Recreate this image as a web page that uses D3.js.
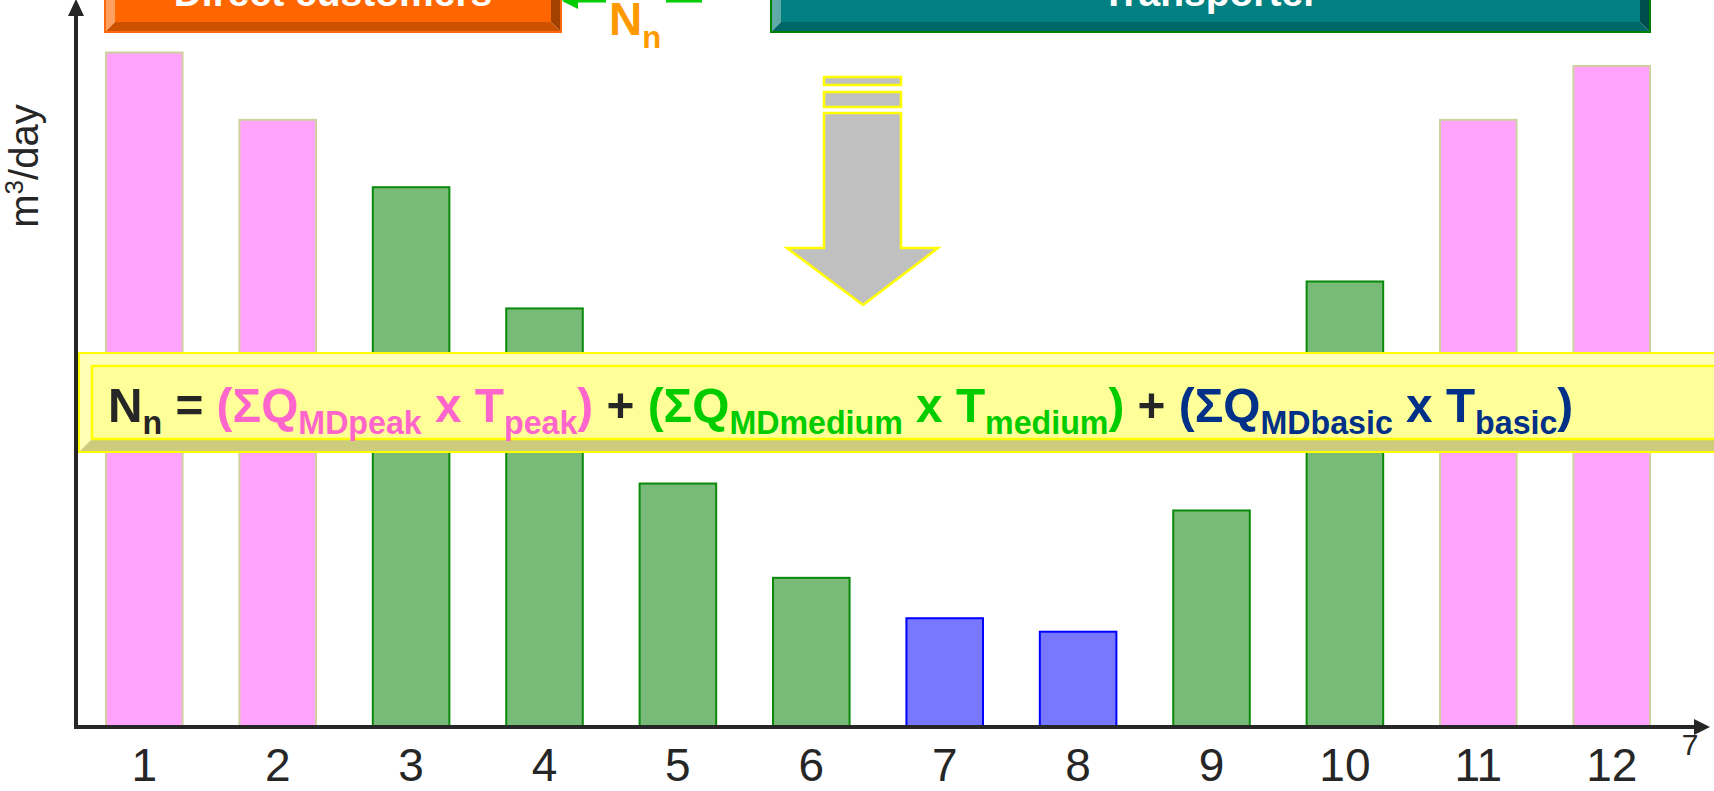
<!DOCTYPE html>
<html>
<head>
<meta charset="utf-8">
<script src="https://cdn.jsdelivr.net/npm/d3@7"></script>
<style>
  html, body { margin: 0; padding: 0; background: #ffffff; overflow: hidden; }
  svg { display: block; }
  text { font-family: "Liberation Sans", Arial, sans-serif; }
</style>
</head>
<body>
<svg id="chart" width="1714" height="791"></svg>
<script>
// ---------------- data ----------------
const categories = ["1", "2", "3", "4", "5", "6", "7", "8", "9", "10", "11", "12"];
const values = [100, 90, 80, 62, 36, 22, 16, 14, 32, 66, 90, 98];
const tiers = ["peak", "peak", "medium", "medium", "medium", "medium", "basic", "basic", "medium", "medium", "peak", "peak"];
const tickLabels = ["1", "2", "3", "4", "5", "6", "7", "8", "9", "10", "11", "12"];
const yAxisLabel = "m";
const yAxisLabelSup = "3";
const yAxisLabelRest = "/day";
const boxLabels = ["Direct customers", "Transporter"];
const formulaParts = [
  { t: "N", tier: "none", sub: false },
  { t: "n", tier: "none", sub: true },
  { t: " = ", tier: "none", sub: false },
  { t: "(ΣQ", tier: "peak", sub: false },
  { t: "MDpeak", tier: "peak", sub: true },
  { t: " x T", tier: "peak", sub: false },
  { t: "peak", tier: "peak", sub: true },
  { t: ")", tier: "peak", sub: false },
  { t: " + ", tier: "none", sub: false },
  { t: "(ΣQ", tier: "medium", sub: false },
  { t: "MDmedium", tier: "medium", sub: true },
  { t: " x T", tier: "medium", sub: false },
  { t: "medium", tier: "medium", sub: true },
  { t: ")", tier: "medium", sub: false },
  { t: " + ", tier: "none", sub: false },
  { t: "(ΣQ", tier: "basic", sub: false },
  { t: "MDbasic", tier: "basic", sub: true },
  { t: " x T", tier: "basic", sub: false },
  { t: "basic", tier: "basic", sub: true },
  { t: ")", tier: "basic", sub: false }
];

// ---------------- styles ----------------
const barFill = { peak: "#FFA3FF", medium: "#78BA78", basic: "#7878FF" };
const barStroke = { peak: "#CFCF9F", medium: "#0A8A0A", basic: "#0000FF" };
const formulaColor = { none: "#262626", peak: "#FF66CC", medium: "#00CC00", basic: "#003087" };
const axisColor = "#262626";

const svg = d3.select("#chart");

// ---------------- scales ----------------
const x = d3.scaleBand().domain(categories).range([106, 1650]).paddingInner(0.426).paddingOuter(0);
const y = d3.scaleLinear().domain([0, 100]).range([726, 52.5]);

// ---------------- bars ----------------
svg.append("g").selectAll("rect")
  .data(categories.map((c, i) => ({ c, v: values[i], tier: tiers[i] })))
  .join("rect")
  .attr("x", d => x(d.c))
  .attr("y", d => y(d.v))
  .attr("width", x.bandwidth())
  .attr("height", d => y(0) - y(d.v))
  .attr("fill", d => barFill[d.tier])
  .attr("stroke", d => barStroke[d.tier])
  .attr("stroke-width", 2);

// ---------------- axes ----------------
const xAxis = svg.append("g")
  .attr("transform", `translate(0, 727)`)
  .call(d3.axisBottom(x).tickSize(0).tickPadding(0).tickFormat((d, i) => tickLabels[i]));
xAxis.select(".domain").remove();
xAxis.selectAll("text")
  .attr("y", 54)
  .attr("dy", 0)
  .attr("fill", axisColor)
  .style("font-size", "46px")
  .style("font-family", "'Liberation Sans', Arial, sans-serif");

// axis lines with arrow heads
svg.append("line").attr("x1", 74).attr("y1", 727).attr("x2", 1696).attr("y2", 727)
  .attr("stroke", axisColor).attr("stroke-width", 4);
svg.append("path").attr("d", "M1694,719 L1710,727 L1694,735 Z").attr("fill", axisColor);
svg.append("line").attr("x1", 76).attr("y1", 729).attr("x2", 76).attr("y2", 14)
  .attr("stroke", axisColor).attr("stroke-width", 4);
svg.append("path").attr("d", "M68,16 L76,-1 L84,16 Z").attr("fill", axisColor);

svg.append("text").attr("x", 1690).attr("y", 755).attr("text-anchor", "middle")
  .attr("fill", axisColor).style("font-size", "30px").text("7");

// y label
const yl = svg.append("text")
  .attr("transform", "translate(38,166) rotate(-90)")
  .attr("text-anchor", "middle")
  .attr("fill", axisColor)
  .style("font-size", "40px");
yl.append("tspan").text(yAxisLabel);
yl.append("tspan").attr("dy", -15).style("font-size", "26px").text(yAxisLabelSup);
yl.append("tspan").attr("dy", 15).text(yAxisLabelRest);

// ---------------- bevel boxes ----------------
function bevelBox(g, x0, y0, x1, y1, b, c) {
  const grp = g.append("g");
  grp.append("polygon").attr("points", `${x0},${y0} ${x1},${y0} ${x1 - b},${y0 + b} ${x0 + b},${y0 + b}`).attr("fill", c.top);
  grp.append("polygon").attr("points", `${x0},${y0} ${x0 + b},${y0 + b} ${x0 + b},${y1 - b} ${x0},${y1}`).attr("fill", c.left);
  grp.append("polygon").attr("points", `${x1},${y0} ${x1},${y1} ${x1 - b},${y1 - b} ${x1 - b},${y0 + b}`).attr("fill", c.right);
  grp.append("polygon").attr("points", `${x0},${y1} ${x0 + b},${y1 - b} ${x1 - b},${y1 - b} ${x1},${y1}`).attr("fill", c.bottom);
  grp.append("rect").attr("x", x0 + b).attr("y", y0 + b).attr("width", x1 - x0 - 2 * b).attr("height", y1 - y0 - 2 * b).attr("fill", c.face);
  if (c.line) {
    grp.append("rect").attr("x", x0 + b).attr("y", y0 + b).attr("width", x1 - x0 - 2 * b).attr("height", y1 - y0 - 2 * b)
      .attr("fill", "none").attr("stroke", c.line).attr("stroke-width", c.lineW || 2);
  }
  grp.append("rect").attr("x", x0).attr("y", y0).attr("width", x1 - x0).attr("height", y1 - y0)
    .attr("fill", "none").attr("stroke", c.stroke).attr("stroke-width", 2);
  return grp;
}

bevelBox(svg, 105, -60, 561, 32, 10, {
  face: "#FF6600", top: "#FF9A5C", left: "#FFA060", right: "#A34100", bottom: "#CC5200", stroke: "#FF6A10"
});
svg.append("text").attr("x", 333).attr("y", 6).attr("text-anchor", "middle").attr("fill", "#ffffff")
  .style("font-size", "39px").style("font-weight", "bold").text(boxLabels[0]);

bevelBox(svg, 771, -60, 1650, 32, 10, {
  face: "#008080", top: "#4DA6A6", left: "#5FA9A9", right: "#004D4D", bottom: "#006666", stroke: "#008000"
});
svg.append("text").attr("x", 1210).attr("y", 6).attr("text-anchor", "middle").attr("fill", "#ffffff")
  .style("font-size", "39px").style("font-weight", "bold").text(boxLabels[1]);

// green arrow with N_n
svg.append("line").attr("x1", 576).attr("y1", -1).attr("x2", 606).attr("y2", -1).attr("stroke", "#00CC00").attr("stroke-width", 7);
svg.append("path").attr("d", "M562,1 L578,-10 L578,9 Z").attr("fill", "#00CC00");
svg.append("line").attr("x1", 666).attr("y1", -1).attr("x2", 702).attr("y2", -1).attr("stroke", "#00CC00").attr("stroke-width", 7);
const nn = svg.append("text").attr("x", 609).attr("y", 35).attr("fill", "#FF9900").style("font-weight", "bold").style("font-size", "46px");
nn.append("tspan").text("N");
nn.append("tspan").attr("dy", 13).style("font-size", "31px").text("n");

// ---------------- gray arrow ----------------
const ga = svg.append("g").attr("fill", "#C0C0C0").attr("stroke", "#FFFF00").attr("stroke-width", 2.5);
ga.append("rect").attr("x", 824).attr("y", 77).attr("width", 77).attr("height", 8);
ga.append("rect").attr("x", 824).attr("y", 92).attr("width", 77).attr("height", 15);
ga.append("path").attr("d", "M824,113 L901,113 L901,248 L938,248 L863,305 L787,248 L824,248 Z");

// ---------------- formula band ----------------
bevelBox(svg, 79, 353, 1780, 452, 13, {
  face: "#FFFF99", top: "#FFFFBB", left: "#FFFFB4", right: "#CCCC7A", bottom: "#CCCC7C", stroke: "#FFFF00", line: "#FFFF00", lineW: 2.5
});

const fg = svg.append("g").attr("transform", "translate(108,421.7)");
const ft = fg.append("text").attr("x", 0).attr("y", 0).style("font-weight", "bold").style("font-size", "49px");
let prevSub = false;
formulaParts.forEach(p => {
  const ts = ft.append("tspan").attr("fill", formulaColor[p.tier]).text(p.t);
  if (p.sub) ts.style("font-size", "33px");
  if (p.sub && !prevSub) ts.attr("dy", 12);
  if (!p.sub && prevSub) ts.attr("dy", -12);
  prevSub = p.sub;
});
const len = ft.node().getComputedTextLength();
const sx = 1466 / len;
fg.attr("transform", `translate(108,421.7) scale(${sx},1)`);
</script>
</body>
</html>
